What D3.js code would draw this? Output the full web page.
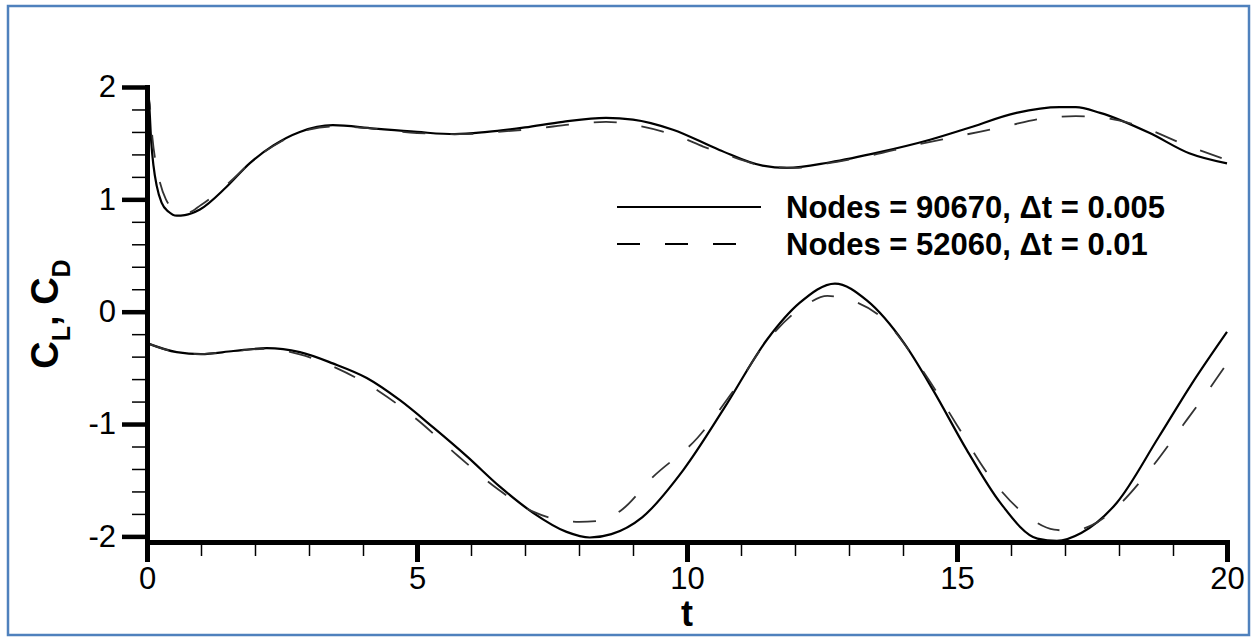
<!DOCTYPE html>
<html>
<head>
<meta charset="utf-8">
<script src="https://cdn.jsdelivr.net/npm/d3@7"></script>
<style>
  body { margin: 0; background: #fff; }
  svg { display: block; font-family: "Liberation Sans", Arial, sans-serif; }
</style>
</head>
<body>
<div id="chart"></div>
<script>
const width = 1257;
const height = 642;

// C_D, fine mesh (solid)
const cdSolidT = [0, 0.04, 0.08, 0.12, 0.18, 0.27, 0.4, 0.55, 0.7, 0.98, 1.47, 1.9, 2.34, 2.83, 3.44, 4.2, 5.0, 5.7, 6.3, 7.0, 7.7, 8.5, 9.0, 9.74, 10.6, 11.4, 11.85, 12.65, 13.57, 14.5, 15.18, 16.1, 16.9, 17.2, 17.65, 18.57, 19.3, 20];
const cdSolidV = [2.0, 1.85, 1.5, 1.3, 1.12, 0.97, 0.89, 0.855, 0.86, 0.91, 1.11, 1.32, 1.48, 1.60, 1.66, 1.63, 1.60, 1.58, 1.60, 1.64, 1.69, 1.725, 1.71, 1.62, 1.44, 1.30, 1.28, 1.33, 1.42, 1.53, 1.63, 1.77, 1.82, 1.82, 1.77, 1.59, 1.41, 1.32];

// C_D, coarse mesh (dashed)
const cdDashT = [0, 0.05, 0.1, 0.16, 0.24, 0.35, 0.55, 0.75, 1.0, 1.5, 2.0, 2.5, 3.0, 3.5, 4.2, 5.0, 5.8, 6.5, 7.2, 7.9, 8.5, 9.2, 9.9, 10.3, 10.9, 11.5, 12.0, 12.6, 13.4, 14.2, 15.0, 15.9, 16.6, 17.2, 17.8, 18.5, 19.2, 20];
const cdDashV = [2.0, 1.85, 1.55, 1.33, 1.15, 1.0, 0.9, 0.88, 0.95, 1.14, 1.36, 1.52, 1.62, 1.65, 1.63, 1.59, 1.58, 1.60, 1.63, 1.67, 1.69, 1.645, 1.55, 1.47, 1.37, 1.29, 1.28, 1.32, 1.39, 1.48, 1.56, 1.65, 1.72, 1.74, 1.72, 1.63, 1.49, 1.35];

// C_L, fine mesh (solid)
const clSolidT = [0, 0.55, 1.0, 1.6, 2.22, 2.83, 3.44, 4.07, 4.69, 5.3, 5.93, 6.54, 7.15, 7.77, 8.2, 8.6, 9.17, 9.93, 10.7, 11.48, 12.09, 12.74, 13.33, 14.02, 14.56, 15.18, 15.8, 16.49, 16.85, 17.3, 17.96, 18.73, 19.35, 20];
const clSolidV = [-0.28, -0.36, -0.377, -0.35, -0.325, -0.36, -0.46, -0.59, -0.79, -1.03, -1.29, -1.56, -1.79, -1.96, -2.01, -1.98, -1.83, -1.41, -0.85, -0.25, 0.08, 0.25, 0.10, -0.28, -0.70, -1.23, -1.70, -2.02, -2.04, -1.97, -1.70, -1.12, -0.64, -0.18];

// C_L, coarse mesh (dashed)
const clDashT = [0, 0.55, 1.0, 1.6, 2.22, 2.83, 3.5, 4.3, 5.0, 5.75, 6.5, 7.15, 7.6, 8.0, 8.4, 8.8, 9.35, 10.2, 10.85, 11.5, 12.2, 12.6, 13.05, 13.6, 14.4, 15.0, 15.55, 16.25, 16.8, 17.1, 17.5, 18.0, 18.55, 19.2, 19.8, 20];
const clDashV = [-0.28, -0.36, -0.377, -0.35, -0.33, -0.38, -0.50, -0.71, -0.96, -1.28, -1.58, -1.78, -1.85, -1.87, -1.86, -1.76, -1.48, -1.12, -0.71, -0.25, 0.06, 0.14, 0.10, -0.05, -0.55, -1.01, -1.43, -1.80, -1.94, -1.95, -1.90, -1.72, -1.42, -1.00, -0.60, -0.46];

const xMajor = [0, 5, 10, 15, 20];
const xMinor = d3.range(0, 21, 1);
const yMajor = [-2, -1, 0, 1, 2];
const yMinor = d3.range(-2, 2.01, 0.2).map(d => +d.toFixed(1));
const legendLabels = ["Nodes = 90670, \u0394t = 0.005", "Nodes = 52060, \u0394t = 0.01"];

const dash = "23,25";

const svg = d3.select("#chart")
  .append("svg")
  .attr("width", width)
  .attr("height", height);

// picture border
svg.append("rect")
  .attr("x", 8).attr("y", 6)
  .attr("width", 1241).attr("height", 629)
  .attr("fill", "none")
  .attr("stroke", "#4f81bd")
  .attr("stroke-width", 2.5);

const x = d3.scaleLinear().domain([0, 20]).range([147, 1227]);
const y = d3.scaleLinear().domain([-2.05, 2]).range([542, 87]);

const line = d3.line()
  .x(d => x(d[0]))
  .y(d => y(d[1]))
  .curve(d3.curveMonotoneX);

function pairs(t, v) { return t.map((d, i) => [d, v[i]]); }

const series = [
  {data: pairs(cdSolidT, cdSolidV), dashed: false},
  {data: pairs(cdDashT, cdDashV), dashed: true},
  {data: pairs(clSolidT, clSolidV), dashed: false},
  {data: pairs(clDashT, clDashV), dashed: true}
];

series.forEach(s => {
  svg.append("path")
    .datum(s.data)
    .attr("d", line)
    .attr("fill", "none")
    .attr("stroke", s.dashed ? "#333" : "#000")
    .attr("stroke-width", s.dashed ? 1.8 : 2.2)
    .attr("stroke-dasharray", s.dashed ? dash : null);
});

const fmt = d => String(d);

// minor ticks
svg.append("g")
  .attr("transform", `translate(0,${y.range()[0]})`)
  .call(d3.axisBottom(x).tickValues(xMinor).tickSize(14).tickFormat(""))
  .call(g => g.select(".domain").remove())
  .call(g => g.selectAll(".tick line").attr("stroke-width", 1.5));

svg.append("g")
  .attr("transform", `translate(${x.range()[0]},0)`)
  .call(d3.axisLeft(y).tickValues(yMinor).tickSize(15).tickFormat(""))
  .call(g => g.select(".domain").remove())
  .call(g => g.selectAll(".tick line").attr("stroke-width", 1.5));

// major ticks + labels
svg.append("g")
  .attr("transform", `translate(0,${y.range()[0]})`)
  .call(d3.axisBottom(x).tickValues(xMajor).tickFormat(fmt).tickSize(20).tickSizeOuter(0).tickPadding(5))
  .call(g => g.select(".domain").attr("stroke-width", 5).attr("stroke-linecap", "square"))
  .call(g => g.selectAll(".tick line").attr("stroke-width", 5))
  .call(g => g.selectAll(".tick text").attr("font-size", 31).attr("font-family", "Liberation Sans, Arial").attr("fill", "#000"));

svg.append("g")
  .attr("transform", `translate(${x.range()[0]},0)`)
  .call(d3.axisLeft(y).tickValues(yMajor).tickFormat(fmt).tickSize(25).tickSizeOuter(0).tickPadding(6))
  .call(g => g.select(".domain").attr("stroke-width", 5).attr("stroke-linecap", "square"))
  .call(g => g.selectAll(".tick line").attr("stroke-width", 4.5))
  .call(g => g.selectAll(".tick text").attr("font-size", 31).attr("font-family", "Liberation Sans, Arial").attr("fill", "#000"));

// axis titles
svg.append("text")
  .attr("x", x(10))
  .attr("y", 626)
  .attr("text-anchor", "middle")
  .attr("font-size", 36)
  .attr("font-weight", "bold")
  .text("t");

const yTitle = svg.append("text")
  .attr("transform", "translate(58,314) rotate(-90)")
  .attr("text-anchor", "middle")
  .attr("font-size", 38)
  .attr("font-weight", "bold");
yTitle.append("tspan").text("C");
yTitle.append("tspan").attr("dy", 12).attr("font-size", 25).text("L");
yTitle.append("tspan").attr("dy", -12).text(", C");
yTitle.append("tspan").attr("dy", 12).attr("font-size", 25).text("D");

// legend
const legend = svg.selectAll(".legend")
  .data(legendLabels)
  .enter()
  .append("g")
  .attr("class", "legend")
  .attr("transform", (d, i) => `translate(617,${207 + i * 37})`);

legend.append("line")
  .attr("x1", 0).attr("x2", 144)
  .attr("stroke", "#000")
  .attr("stroke-width", 2)
  .attr("stroke-dasharray", (d, i) => i === 1 ? dash : null);

legend.append("text")
  .attr("x", 169)
  .attr("y", 11)
  .attr("font-size", 31)
  .attr("font-weight", "bold")
  .text(d => d);
</script>
</body>
</html>
